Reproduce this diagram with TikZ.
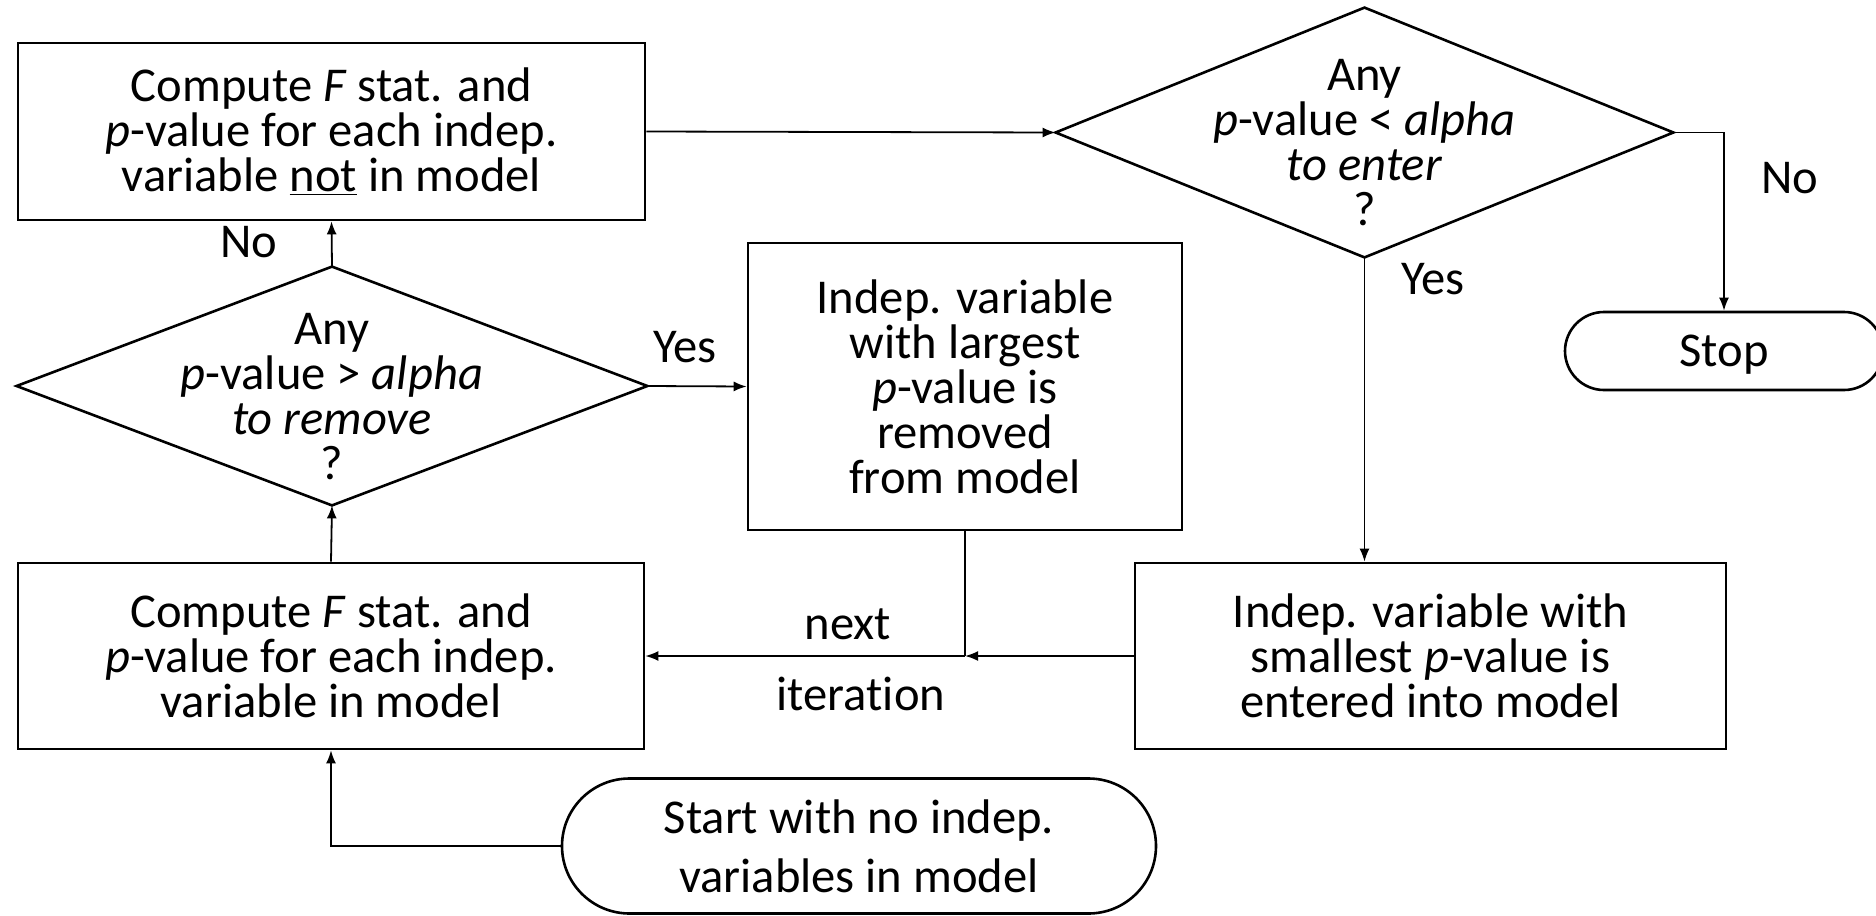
\documentclass[tikz,border=0pt]{standalone}
\usepackage{fontspec}
\setmainfont{Carlito}[Ligatures=NoCommon]
\usetikzlibrary{arrows.meta,shapes.misc,calc}
\tikzset{
  txt/.style={font=\fontsize{24.3pt}{22.5pt}\selectfont, align=center, inner sep=0pt},
  boxnode/.style={draw, line width=1.3pt, rectangle, txt},
  decnode/.style={rectangle, inner sep=0pt},
  decline/.style={draw, line width=1.3pt, line join=miter},
  termnode/.style={draw, line width=1.3pt, rounded rectangle, txt},
  conn/.style={line width=0.9pt},
  arr/.style={conn, -{Latex[length=6.5pt,width=5pt]}},
  lbl/.style={font=\fontsize{24.3pt}{22.5pt}\selectfont, inner sep=0pt}
}
\begin{document}
\begin{tikzpicture}[x=0.5pt,y=-0.5pt]
\useasboundingbox (0,0) rectangle (1876,916);

% process boxes
\node[boxnode, minimum width=313.5pt, minimum height=88.5pt] (A) at (331.5,131.5)
  {Compute \textit{F} stat. and\\ \textit{p}-value for each indep.\\ variable \underline{not} in model};
\node[boxnode, minimum width=313pt, minimum height=93pt] (E) at (331,656)
  {Compute \textit{F} stat. and\\ \textit{p}-value for each indep.\\ variable in model};
\node[boxnode, minimum width=295.5pt, minimum height=93pt] (F) at (1430.5,656)
  {Indep. variable with\\ smallest \textit{p}-value is\\ entered into model};
\node[boxnode, minimum width=217pt, minimum height=143.5pt] (D) at (965,386.5)
  {Indep. variable\\ with largest\\ \textit{p}-value is\\ removed\\ from model};

% decisions
\node[decnode, minimum width=308.5pt, minimum height=124.5pt] (B) at (1364.5,132.5) {};
\draw[decline] (B.west) -- (B.north) -- (B.east) -- (B.south) -- cycle;
\node[txt] (Bt) at (1364.5,143) {Any\\ \textit{p}-value < \textit{alpha}\\ \textit{to enter}\\ ?};

\node[decnode, minimum width=315pt, minimum height=119pt] (C) at (332,386) {};
\draw[decline] (C.west) -- (C.north) -- (C.east) -- (C.south) -- cycle;
\node[txt] (Ct) at (332,397) {Any\\ \textit{p}-value > \textit{alpha}\\ \textit{to remove}\\ ?};

% terminals
\node[termnode, minimum width=159pt, minimum height=39pt, text depth=0pt] (Stop) at (1724,351) {Stop};
\node[termnode, minimum width=297pt, minimum height=67.5pt,
      font=\fontsize{24.3pt}{29.5pt}\selectfont] (Start) at (859,846)
  {Start with no indep.\\ variables in model};

% connectors
\draw[arr] (A.east) -- (B.west);
\draw[arr] (B.east) -| (Stop.north);
\draw[arr] (B.south) -- (B.south |- F.north);
\draw[arr] (C.north) -- (A.south);
\draw[arr] (C.east) -- (D.west);
\draw[arr] (E.north) -- (C.south);
\coordinate (J) at (D.south |- F.west);
\draw[arr] (F.west) -- (J);
\draw[conn] (D.south) -- (J);
\draw[arr] (J) -- (E.east);
\draw[arr] (Start.west) -| (E.south);

% labels
\node[lbl] (noB) at (1790,178) {No};
\node[lbl] (yesB) at (1433,279) {Yes};
\node[lbl] (noC) at (249,242) {No};
\node[lbl] (yesC) at (685,347) {Yes};
\node[lbl] (nxt) at (848,624) {next};
\node[lbl] (itr) at (861,694) {iteration};
\end{tikzpicture}
\end{document}
